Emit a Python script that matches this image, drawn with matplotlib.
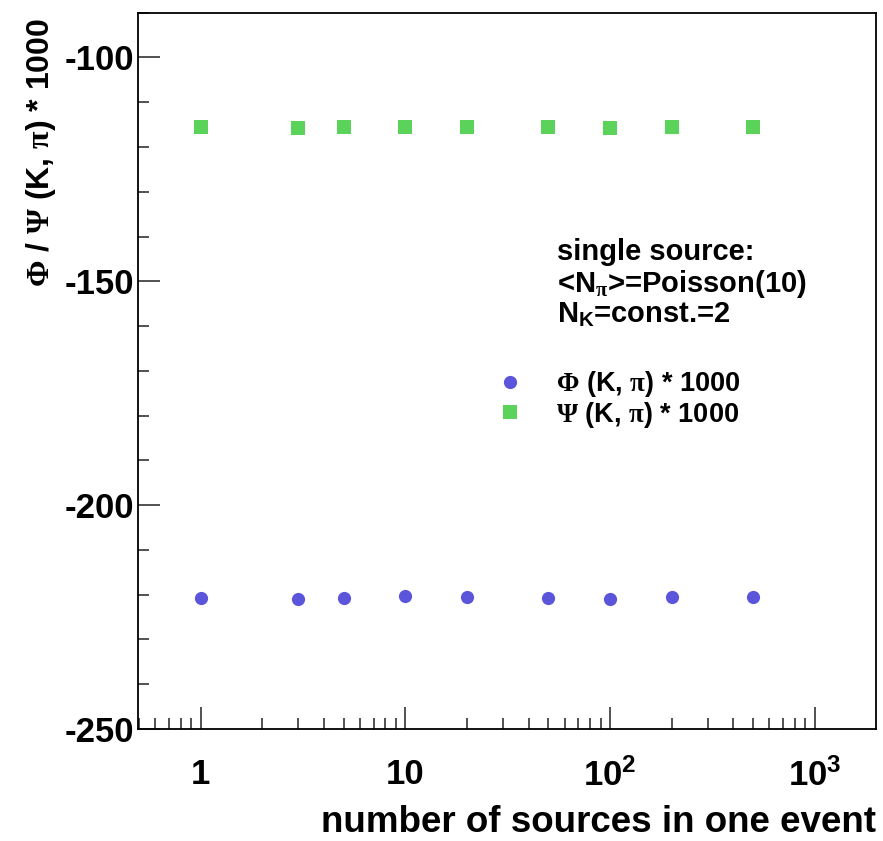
import matplotlib
matplotlib.use("Agg")
import matplotlib.pyplot as plt
from matplotlib.ticker import FixedLocator, FixedFormatter, MultipleLocator, NullFormatter
import numpy as np

# ---- data ----
n_sources = [1, 3, 5, 10, 20, 50, 100, 200, 500]
phi_vals = [-220.8, -221.0, -220.8, -220.3, -220.5, -220.8, -221.0, -220.5, -220.5]
psi_vals = [-115.5, -115.8, -115.5, -115.5, -115.5, -115.5, -115.8, -115.5, -115.5]
xtick_vals = [1, 10, 100, 1000]
xtick_labels = ["1", "10", r"$\mathbf{10^{2}}$", r"$\mathbf{10^{3}}$"]
ytick_vals = [-250, -200, -150, -100]
ytick_labels = ["-250", "-200", "-150", "-100"]

plt.rcParams['font.family'] = ['Liberation Sans', 'DejaVu Sans']
plt.rcParams['font.weight'] = 'bold'
plt.rcParams['axes.unicode_minus'] = False
plt.rcParams['mathtext.fontset'] = 'custom'
plt.rcParams['mathtext.rm'] = 'Liberation Serif'
plt.rcParams['mathtext.it'] = 'Liberation Serif:italic'
plt.rcParams['mathtext.bf'] = 'Liberation Sans:bold'

blue = '#5B55DB'
green = '#5BD35B'

fig = plt.figure(figsize=(8.83, 8.41), dpi=100)
ax = fig.add_axes([138/883, 1-729/841, (876-138)/883, (729-12.7)/841])

ax.plot(n_sources, phi_vals, linestyle='none', marker='o', ms=9.5, color=blue,
        markeredgewidth=0, label=r'$\mathrm{\Phi}$ (K, $\mathrm{\pi}$) * 1000')
ax.plot(n_sources, psi_vals, linestyle='none', marker='s', ms=9.5, color=green,
        markeredgewidth=0, label=r'$\mathrm{\Psi}$ (K, $\mathrm{\pi}$) * 1000')

ax.set_xscale('log')
ax.set_xlim(0.495, 1990)
ax.set_ylim(-250, -90)

ax.xaxis.set_major_locator(FixedLocator(xtick_vals))
ax.xaxis.set_major_formatter(FixedFormatter(xtick_labels))
minors = [m * 10.0**d for d in range(-1, 4) for m in range(2, 10)]
ax.xaxis.set_minor_locator(FixedLocator(minors))
ax.xaxis.set_minor_formatter(NullFormatter())
ax.yaxis.set_major_locator(FixedLocator(ytick_vals))
ax.yaxis.set_major_formatter(FixedFormatter(ytick_labels))
ax.yaxis.set_minor_locator(MultipleLocator(10))

ax.tick_params(which='both', direction='in', top=False, right=False, width=1.2, color='#333333')
ax.tick_params(which='major', length=16)
ax.tick_params(which='minor', length=8)
ax.tick_params(axis='x', which='major', pad=21, labelsize=25)
ax.tick_params(axis='y', which='major', pad=3, labelsize=25)
for s in ax.spines.values():
    s.set_linewidth(1.3)
    s.set_color('black')

ax.set_ylabel(r'$\mathrm{\Phi}$ / $\mathrm{\Psi}$ (K, $\mathrm{\pi}$) * 1000', fontsize=23,
              fontweight='bold', loc='top', va='center')
ax.yaxis.set_label_coords(-0.132, 0.992)
ax.set_xlabel('number of sources in one event', fontsize=26.5, fontweight='bold', loc='right')
ax.xaxis.set_label_coords(1.0, -0.106)

tx = 557/883
fs = 21
fig.text(tx, 1-260/841, 'single source:', fontsize=fs, fontweight='bold', va='baseline')
fig.text(tx, 1-292/841, r'<N$_{\mathrm{\pi}}$>=Poisson(10)', fontsize=fs, fontweight='bold', va='baseline')
fig.text(tx, 1-323/841, r'N$_{\mathbf{K}}$=const.=2', fontsize=fs, fontweight='bold', va='baseline')

leg = ax.legend(loc='upper left', bbox_to_anchor=(496/883, 1-369/841), bbox_transform=fig.transFigure,
                frameon=False, fontsize=19.5, handlelength=1.0, handletextpad=1.2,
                labelspacing=0.02, borderpad=0, borderaxespad=0)

fig.savefig('out.png', dpi=100, facecolor='white')
